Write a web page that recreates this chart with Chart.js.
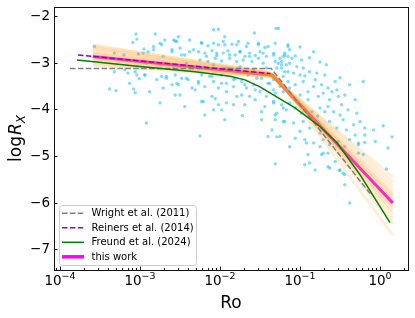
<!DOCTYPE html>
<html><head><meta charset="utf-8">
<script src="https://cdn.jsdelivr.net/npm/chart.js@4"></script>
<style>html,body{margin:0;padding:0;background:#fff}canvas{display:block}</style>
</head><body>
<canvas id="c" width="415" height="318"></canvas>
<script>
// ---- axis ranges / ticks ----
const xMinExp = -4.075, xMaxExp = 0.35;      // log10(Ro) limits
const yMin = -7.45, yMax = -1.8;             // log R_X limits
const xMajorExps = [-4, -3, -2, -1, 0];
const xMinorMults = [2, 3, 4, 5, 6, 7, 8, 9];
const yTickValues = [-7, -6, -5, -4, -3, -2];

// ---- stars: [log10 Ro, log R_X] ----
const starPoints = [
[-3.57,-2.65],[-3.32,-2.79],[-3.20,-2.83],[-3.04,-2.49],[-3.09,-2.56],[-3.02,-2.81],[-3.32,-3.19],[-3.19,-3.15],[-3.15,-3.22],[-3.06,-3.19],[-3.04,-3.26],[-3.13,-3.44],[-3.38,-3.56],[-3.30,-3.60],[-3.08,-3.56],[-3.06,-3.64],[-3.01,-3.34],
[-3.05,-2.38],[-2.81,-2.38],[-2.69,-2.51],[-2.56,-2.53],[-2.52,-2.44],[-2.73,-2.61],[-2.95,-2.70],[-2.90,-2.76],[-2.83,-2.65],[-2.60,-2.72],[-2.50,-2.68],[-2.44,-2.83],[-2.38,-2.76],[-2.94,-3.26],[-2.73,-3.29],[-2.67,-3.33],[-2.56,-3.26],[-2.48,-3.33],[-2.60,-3.47],[-2.52,-3.47],[-2.40,-3.36],[-2.35,-3.54],[-2.56,-3.69],[-2.92,-4.29],
[-2.25,-4.57],[-2.02,-2.28],[-2.08,-2.29],[-1.94,-2.44],[-1.57,-2.36],[-2.19,-4.12],[-1.94,-4.22],[-1.72,-4.13],[-1.40,-4.58],[-1.29,-4.59],[-2.02,-3.90],[-2.08,-4.01],[-1.63,-3.72],
[-1.30,-2.26],[-2.23,-2.56],[-2.15,-2.63],[-2.08,-2.58],[-2.02,-2.61],[-1.94,-2.61],[-1.85,-2.60],[-1.77,-2.54],[-1.65,-2.58],[-1.52,-2.61],[-1.44,-2.67],[-1.31,-2.58],[-1.15,-2.61],
[-2.27,-2.76],[-2.19,-2.79],[-2.10,-2.74],[-2.04,-2.84],[-1.96,-2.79],[-1.90,-2.74],[-1.81,-2.83],[-1.75,-2.76],[-1.69,-2.86],[-1.63,-2.79],[-1.56,-2.84],[-1.50,-2.76],[-1.42,-2.86],[-1.33,-2.79],[-1.25,-2.90],[-1.19,-2.83],[-1.10,-2.90],
[-2.25,-2.94],[-2.15,-2.97],[-2.06,-2.90],[-1.98,-2.96],[-1.88,-2.90],[-1.79,-2.97],[-1.71,-2.94],[-1.60,-2.97],[-1.52,-2.90],[-1.46,-3.01],[-1.27,-3.01],[-1.17,-3.04],
[-2.23,-3.26],[-2.10,-3.29],[-1.98,-3.26],[-1.81,-3.33],[-1.65,-3.26],[-1.48,-3.33],[-1.23,-3.11],[-1.15,-3.19],[-1.21,-3.29],
[-2.27,-3.44],[-2.19,-3.51],[-2.08,-3.40],[-2.02,-3.54],[-1.92,-3.44],[-1.83,-3.51],[-1.73,-3.40],[-1.67,-3.54],[-1.58,-3.47],[-1.50,-3.62],[-1.40,-3.44],[-1.33,-3.58],[-1.25,-3.51],[-1.15,-3.62],
[-2.23,-3.83],[-2.06,-3.77],[-1.92,-3.86],[-1.79,-3.72],[-1.69,-3.90],[-1.56,-3.79],[-1.44,-3.94],[-1.33,-3.83],[-1.21,-3.97],[-1.13,-3.86],
[-1.48,-4.22],[-1.31,-4.12],[-1.19,-4.26],
[-1.27,-2.26],[-1.15,-2.65],[-1.19,-2.79],[-0.83,-2.76],[-0.67,-3.04],[-0.21,-3.40],[-1.23,-2.97],[-1.21,-2.86],[-0.08,-4.44],[0.04,-4.35],[0.15,-4.59],[0.10,-4.83],[-0.19,-4.55],[-0.06,-4.69],[-0.27,-4.76],
[-1.15,-2.86],[-1.06,-2.85],[-0.98,-2.94],[-1.31,-2.97],[-1.23,-3.04],[-1.13,-3.01],[-1.04,-3.08],[-0.96,-3.11],[-1.29,-3.11],[-1.19,-3.19],[-1.08,-3.22],[-1.00,-3.26],[-0.88,-3.19],[-0.79,-3.22],
[-1.33,-3.36],[-1.25,-3.44],[-1.15,-3.40],[-1.06,-3.47],[-0.96,-3.40],[-0.83,-3.51],[-0.73,-3.47],[-0.65,-3.54],[-0.56,-3.40],
[-1.31,-3.65],[-1.21,-3.62],[-1.10,-3.72],[-1.00,-3.69],[-0.90,-3.79],[-0.77,-3.72],[-0.71,-3.65],[-0.60,-3.62],[-0.54,-3.58],[-0.52,-3.72],[-0.38,-3.47],
[-1.33,-3.86],[-1.23,-3.90],[-1.29,-4.08],[-1.17,-4.01],[-1.06,-3.97],[-0.98,-4.08],[-0.85,-4.05],[-0.75,-3.97],[-0.65,-3.94],[-0.58,-4.05],[-0.48,-3.90],[-0.40,-4.01],[-0.29,-4.08],
[-1.31,-4.22],[-1.21,-4.26],[-1.08,-4.29],[-0.96,-4.26],[-0.88,-4.40],[-1.00,-4.47],[-0.79,-4.33],[-0.75,-4.51],[-0.63,-4.26],[-0.54,-4.40],[-0.46,-4.22],[-0.42,-4.44],[-0.33,-4.33],[-0.25,-4.26],[-0.19,-4.40],[-0.31,-4.55],[-0.38,-4.65],[-0.27,-4.72],
[-1.25,-4.58],[-1.06,-4.62],[-0.94,-4.65],[-0.83,-4.72],[-0.71,-4.65],[-0.63,-4.76],[-0.52,-4.69],[-0.44,-4.80],[-1.13,-4.80],[-1.35,-4.44],
[-0.92,-4.72],[-0.75,-4.80],[-0.71,-4.94],[-0.90,-4.97],[-0.94,-5.19],[-0.88,-5.15],[-0.81,-5.30],[-0.73,-4.97],[-0.65,-4.94],[-0.56,-5.12],[-0.65,-5.23],[-0.50,-5.30],[-0.46,-5.37],[-0.44,-5.40],[-0.44,-5.62],[-0.38,-6.01],[-0.27,-4.94],[-0.21,-4.97],[-0.19,-4.71],[0.08,-5.28],[-0.63,-5.26],[-0.51,-5.31],[-1.31,-5.17],
[-2.75,-2.58],[-2.58,-2.51],[-2.54,-2.54],[-2.38,-2.51],[-2.23,-2.58],[-1.96,-2.54],[-1.79,-2.61],[-1.67,-2.65],[-1.52,-2.58],[-1.40,-2.65],
[-2.96,-2.79],[-2.83,-2.72],[-2.71,-2.86],[-2.60,-2.76],[-2.48,-2.83],[-2.33,-2.72],[-2.17,-2.86],[-2.04,-2.79],[-1.88,-2.83],[-1.75,-2.76],[-1.63,-2.86],[-1.46,-2.79],[-1.33,-2.83],
[-2.92,-3.01],[-2.75,-3.04],[-2.58,-3.08],[-2.42,-3.01],[-2.25,-3.08],[-2.08,-3.04],[-1.92,-3.11],[-1.75,-3.08],[-1.58,-3.15],[-1.42,-3.11],
[-2.94,-3.26],[-2.79,-3.36],[-2.67,-3.29],[-2.54,-3.44],[-2.42,-3.33],[-2.27,-3.40],[-2.13,-3.29],[-1.98,-3.44],[-1.83,-3.36],[-1.69,-3.47],[-1.54,-3.33],[-1.38,-3.44],
[-2.88,-3.62],[-2.71,-3.54],[-2.50,-3.69],[-2.31,-3.58],[-2.10,-3.72],[-1.92,-3.62],[-1.73,-3.69],[-1.56,-3.58],[-1.42,-3.72],
[-2.75,-3.86],[-2.44,-3.94],[-2.21,-3.83],[-1.98,-4.01],[-1.83,-3.90],[-1.48,-4.05],
[-1.13,-2.72],[-1.00,-2.66],[-0.88,-2.89],[-0.75,-2.98],[-0.94,-3.28],[-0.81,-3.36],[-0.69,-3.26],[-0.50,-3.32],[-0.44,-3.69],[-0.31,-3.79],[-0.63,-3.79],[-0.78,-4.14],[-0.69,-4.05],[-0.50,-4.12],[-1.13,-3.54],[-1.03,-3.84],[-0.90,-3.62]
];

// ---- literature relations: [log10 Ro, log R_X] ----
const wrightLine  = [[-3.875,-3.12],[-1.36,-3.12],[-0.10,-5.86]];
const reinersLine = [[-3.775,-2.83],[-1.37,-3.23]];
const freundLine  = [[-3.7875,-2.94],[-3.0,-3.08],[-2.3125,-3.19],[-1.875,-3.29],[-1.6875,-3.365],[-1.5,-3.515],[-1.375,-3.644],[-1.0625,-3.966],[-0.75,-4.367],[-0.5375,-4.717],[-0.25,-5.403],[0.125,-6.433]];
const thisWorkLine = [[-3.59,-2.865],[-1.35,-3.26],[0.16,-6.01]];

// posterior samples: [start logRx, knee logRo, knee logRx, end logRx]
const fitStartLogRo = -3.59, fitEndLogRo = 0.16;
const sampleLines = [
[-2.86,-1.35,-3.26,-6.01],[-2.70,-1.38,-3.22,-5.75],[-2.95,-1.32,-3.28,-6.25],[-2.78,-1.36,-3.24,-5.90],
[-2.92,-1.33,-3.27,-6.12],[-2.64,-1.40,-3.20,-5.55],[-3.02,-1.30,-3.30,-6.45],[-2.82,-1.37,-3.25,-5.95],
[-2.90,-1.34,-3.27,-6.08],[-2.74,-1.39,-3.23,-5.82],[-2.98,-1.31,-3.29,-6.35],[-2.68,-1.41,-3.21,-5.65],
[-2.88,-1.35,-3.26,-6.18],[-2.80,-1.36,-3.25,-5.85],[-3.05,-1.29,-3.31,-6.70],[-2.62,-1.42,-3.19,-5.45]
];

const legendEntries = [
  {label:'Wright et al. (2011)',  color:'#808080', dash:[5.5,2.4], width:1.5},
  {label:'Reiners et al. (2014)', color:'#9400d3', dash:[5.5,2.4], width:1.5},
  {label:'Freund et al. (2024)',  color:'#008000', dash:[], width:1.5},
  {label:'this work',             color:'#ff00ff', dash:[], width:3.5}
];

const toPts = arr => arr.map(p => ({x: Math.pow(10, p[0]), y: p[1]}));

const datasets = [];
datasets.push({data: toPts(freundLine), borderColor:'#008000', borderWidth:1.5, showLine:true, pointRadius:0, order:1});
datasets.push({data: toPts(reinersLine), borderColor:'#9400d3', borderWidth:1.5, borderDash:[5.5,2.4], showLine:true, pointRadius:0, order:2});
datasets.push({data: toPts(wrightLine), borderColor:'#808080', borderWidth:1.5, borderDash:[5.5,2.4], showLine:true, pointRadius:0, order:3});
sampleLines.forEach((s, i) => {
  datasets.push({data: toPts([[fitStartLogRo, s[0]], [s[1], s[2]], [fitEndLogRo, s[3]]]),
    borderColor:'rgba(255,150,20,0.16)', borderWidth:3, showLine:true, pointRadius:0, order:5});
});
datasets.push({data: toPts(thisWorkLine), borderColor:'#ff00ff', borderWidth:3, showLine:true, pointRadius:0, order:6});
datasets.push({data: toPts(starPoints), backgroundColor:'rgba(0,185,255,0.5)', borderWidth:0, pointRadius:1.7, showLine:false, order:10});

const FONT = '"DejaVu Sans", sans-serif';

const decorPlugin = {
  id:'decor',
  afterDatasetsDraw(chart){
    const {ctx, chartArea:a, scales:{x, y}} = chart;
    ctx.save();
    // frame
    ctx.strokeStyle = '#111'; ctx.lineWidth = 1; ctx.setLineDash([]);
    ctx.strokeRect(a.left + 0.5, a.top + 0.5, a.right - a.left, a.bottom - a.top);
    // x ticks (inward)
    ctx.beginPath();
    for (let e = -5; e <= 1; e++) {
      const base = Math.pow(10, e);
      const mp = x.getPixelForValue(base);
      if (xMajorExps.includes(e)) { ctx.moveTo(Math.round(mp)+0.5, a.bottom); ctx.lineTo(Math.round(mp)+0.5, a.bottom - 3.5); }
      xMinorMults.forEach(m => {
        const v = base * m;
        if (Math.log10(v) < xMinExp || Math.log10(v) > xMaxExp) return;
        const p = Math.round(x.getPixelForValue(v)) + 0.5;
        ctx.moveTo(p, a.bottom); ctx.lineTo(p, a.bottom - 2);
      });
    }
    yTickValues.forEach(v => {
      const p = Math.round(y.getPixelForValue(v)) + 0.5;
      ctx.moveTo(a.left, p); ctx.lineTo(a.left + 3.5, p);
    });
    ctx.stroke();
    // tick labels
    ctx.fillStyle = '#000';
    ctx.textAlign = 'right'; ctx.textBaseline = 'middle';
    ctx.font = '13.5px ' + FONT;
    yTickValues.forEach(v => {
      ctx.fillText('\u2212' + Math.abs(v), 50, y.getPixelForValue(v) + 0.5);
    });
    ctx.textAlign = 'left'; ctx.textBaseline = 'alphabetic';
    xMajorExps.forEach(e => {
      const p = x.getPixelForValue(Math.pow(10, e));
      const sup = e < 0 ? '\u2212' + Math.abs(e) : String(e);
      ctx.font = '13.5px ' + FONT; const w1 = ctx.measureText('10').width;
      ctx.font = '9.5px ' + FONT; const w2 = ctx.measureText(sup).width;
      const s = p - (w1 + w2) / 2;
      ctx.font = '13.5px ' + FONT; ctx.fillText('10', s, 285);
      ctx.font = '9.5px ' + FONT; ctx.fillText(sup, s + w1, 279);
    });
    // axis titles
    ctx.font = '17px ' + FONT; ctx.textAlign = 'center';
    ctx.fillText('Ro', (a.left + a.right) / 2, 308);
    ctx.save();
    ctx.translate(21, (a.top + a.bottom) / 2); ctx.rotate(-Math.PI / 2);
    ctx.textAlign = 'left';
    ctx.font = '17px ' + FONT; const wl = ctx.measureText('log').width;
    const gap = 1;
    ctx.font = 'italic 17px ' + FONT; const wr = ctx.measureText('R').width;
    ctx.font = 'italic 12px ' + FONT; const wx = ctx.measureText('X').width;
    let sx = -(wl + gap + wr + wx) / 2;
    ctx.font = '17px ' + FONT; ctx.fillText('log', sx, 0); sx += wl + gap;
    ctx.font = 'italic 17px ' + FONT; ctx.fillText('R', sx, 0); sx += wr;
    ctx.font = 'italic 12px ' + FONT; ctx.fillText('X', sx, 3.5);
    ctx.restore();
    // legend
    ctx.beginPath();
    ctx.roundRect(59.5, 205.5, 137, 60, 3);
    ctx.fillStyle = 'rgba(255,255,255,0.8)'; ctx.fill();
    ctx.strokeStyle = '#cccccc'; ctx.lineWidth = 1; ctx.stroke();
    ctx.font = '10px ' + FONT; ctx.textBaseline = 'middle'; ctx.textAlign = 'left';
    legendEntries.forEach((en, i) => {
      const ry = 213.3 + i * 14.5;
      ctx.beginPath(); ctx.setLineDash(en.dash); ctx.strokeStyle = en.color; ctx.lineWidth = en.width;
      ctx.moveTo(62, ry); ctx.lineTo(84, ry); ctx.stroke();
      ctx.setLineDash([]);
      ctx.fillStyle = '#000'; ctx.fillText(en.label, 91.5, ry + 0.5);
    });
    ctx.restore();
  }
};

new Chart(document.getElementById('c'), {
  type:'scatter',
  data:{datasets},
  options:{
    responsive:false, animation:false, devicePixelRatio:1,
    layout:{padding:{top:7, right:7, left:0, bottom:0}},
    plugins:{legend:{display:false}, tooltip:{enabled:false}},
    scales:{
      x:{type:'logarithmic', min:Math.pow(10, xMinExp), max:Math.pow(10, xMaxExp),
         grid:{display:false}, border:{display:false}, ticks:{display:false},
         afterFit(s){ s.height = 48; }},
      y:{type:'linear', min:yMin, max:yMax,
         grid:{display:false}, border:{display:false}, ticks:{display:false},
         afterFit(s){ s.width = 54; }}
    }
  },
  plugins:[decorPlugin]
});
</script>
</body></html>
